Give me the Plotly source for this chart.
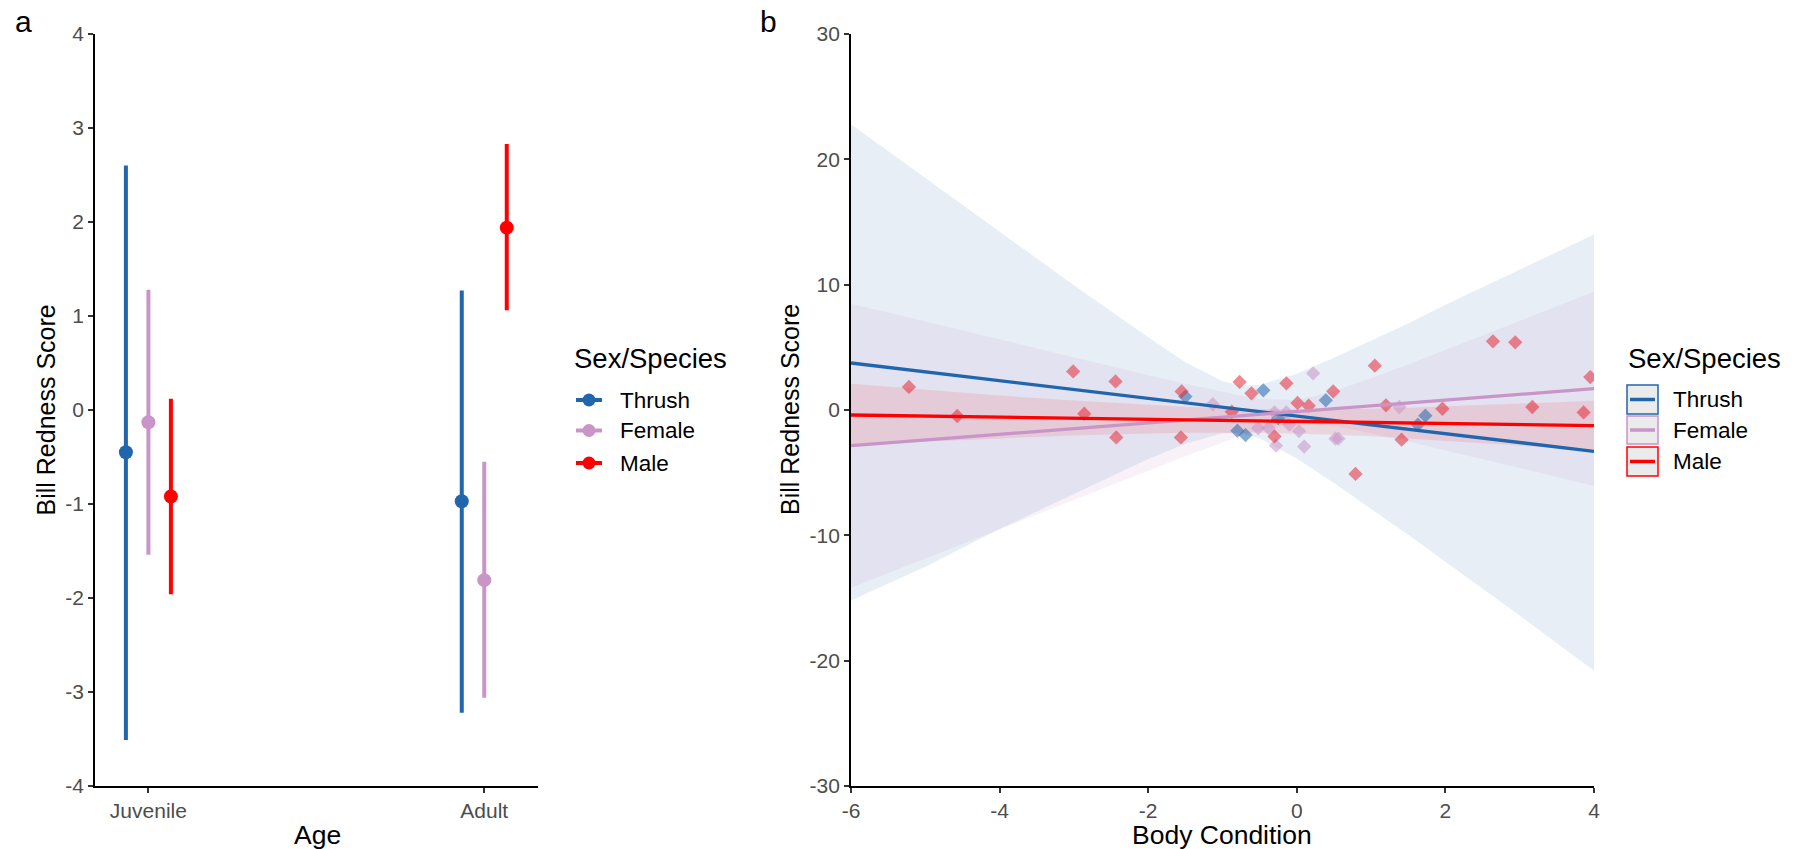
import plotly.graph_objects as go

W, H = 1794, 849
FONT = "Liberation Sans, Arial, sans-serif"

groups = ["Thrush", "Female", "Male"]
colors = {"Thrush": "#2166AC", "Female": "#C994C7", "Male": "#FF0000"}
fills = {"Thrush": "rgba(33,102,172,0.11)", "Female": "rgba(201,148,199,0.13)", "Male": "rgba(255,0,0,0.10)"}
pt_colors = {"Thrush": "rgba(33,102,172,0.55)", "Female": "rgba(201,148,199,0.55)", "Male": "rgba(230,40,55,0.55)"}

# ---------------- Panel a data ----------------
ages = ["Juvenile", "Adult"]
dodge = {"Thrush": -0.067, "Female": 0.0, "Male": 0.067}
mean_a = {"Thrush": [-0.45, -0.97], "Female": [-0.13, -1.81], "Male": [-0.92, 1.94]}
low_a = {"Thrush": [-3.51, -3.22], "Female": [-1.54, -3.06], "Male": [-1.96, 1.06]}
high_a = {"Thrush": [2.60, 1.27], "Female": [1.28, -0.55], "Male": [0.12, 2.83]}
yticks_a = [-4, -3, -2, -1, 0, 1, 2, 3, 4]

# ---------------- Panel b data ----------------
bc_thrush_x = [-1.50, -0.80, -0.69, -0.45, -0.25, 0.39, 1.73, 1.63]
bc_thrush_y = [1.07, -1.65, -2.00, 1.57, -0.65, 0.77, -0.45, -1.17]
bc_female_x = [-1.13, -0.52, -0.38, -0.30, -0.14, -0.28, -0.10, 0.03, 0.10, 0.22, 0.52, 0.56, 1.38]
bc_female_y = [0.46, -1.44, -1.44, -0.19, -0.19, -2.85, -1.17, -1.68, -2.92, 2.93, -2.29, -2.29, 0.24]
bc_male_x = [-5.22, -4.57, -3.01, -2.86, -2.44, -2.43, -1.55, -1.56, -0.77, -0.875, -0.61, -0.30, -0.14,
             0.01, 0.16, 0.49, 0.79, 1.05, 1.20, 1.41, 1.96, 2.64, 2.94, 3.17, 3.86, 3.95]
bc_male_y = [1.84, -0.48, 3.08, -0.30, 2.28, -2.19, 1.48, -2.19, 2.24, -0.14, 1.33, -2.11, 2.13,
             0.56, 0.34, 1.49, -5.10, 3.54, 0.37, -2.37, 0.10, 5.48, 5.40, 0.24, -0.19, 2.63]
pts = {"Thrush": (bc_thrush_x, bc_thrush_y), "Female": (bc_female_x, bc_female_y), "Male": (bc_male_x, bc_male_y)}

fit_x = [-6, 4]
fit_y = {"Thrush": [3.75, -3.30], "Female": [-2.85, 1.70], "Male": [-0.40, -1.25]}

band_x = [-6, -5, -4, -3, -2, -1.5, -1, -0.75, -0.5, 0, 0.5, 1, 1.5, 2, 3, 4]
band_up = {
    "Thrush": [22.8, 18.5, 14.2, 9.95, 5.8, 3.8, 2.3, 1.95, 2.0, 2.9, 4.16, 5.5, 6.9, 8.4, 11.2, 14.0],
    "Female": [8.48, 7.04, 5.61, 4.19, 2.78, 2.10, 1.44, 1.14, 0.89, 0.78, 1.49, 2.53, 3.64, 4.78, 7.11, 9.44],
    "Male": [2.1, 1.6, 1.15, 0.75, 0.40, 0.26, 0.15, 0.11, 0.08, 0.05, 0.06, 0.10, 0.18, 0.28, 0.50, 0.73],
}
band_lo = {
    "Thrush": [-15.2, -12.5, -9.5, -6.7, -3.9, -2.7, -1.85, -1.85, -2.27, -3.86, -5.82, -7.9, -9.95, -12.1, -16.4, -20.8],
    "Female": [-14.18, -11.83, -9.49, -7.16, -4.84, -3.70, -2.59, -2.06, -1.59, -1.02, -1.27, -1.86, -2.52, -3.20, -4.62, -6.04],
    "Male": [-2.8, -2.52, -2.27, -2.04, -1.88, -1.82, -1.80, -1.81, -1.82, -1.87, -1.97, -2.09, -2.26, -2.44, -2.83, -3.23],
}
xticks_b = [-6, -4, -2, 0, 2, 4]
yticks_b = [-30, -20, -10, 0, 10, 20, 30]

fig = go.Figure()

# Panel a: point ranges
for g in groups:
    xs = [i + 1 + dodge[g] for i in range(len(ages))]
    m = mean_a[g]
    fig.add_trace(go.Scatter(
        x=xs, y=m, mode="markers", xaxis="x", yaxis="y", showlegend=False,
        marker=dict(color=colors[g], size=14),
        error_y=dict(type="data", symmetric=False,
                     array=[h - v for h, v in zip(high_a[g], m)],
                     arrayminus=[v - l for l, v in zip(low_a[g], m)],
                     color=colors[g], thickness=4, width=0),
    ))

# Panel b: confidence bands
for g in groups:
    fig.add_trace(go.Scatter(
        x=band_x + band_x[::-1], y=band_up[g] + band_lo[g][::-1],
        xaxis="x2", yaxis="y2", mode="lines", fill="toself",
        fillcolor=fills[g], line=dict(width=0), showlegend=False, hoverinfo="skip"))

# Panel b: points
for g in groups:
    x, y = pts[g]
    fig.add_trace(go.Scatter(
        x=x, y=y, mode="markers", xaxis="x2", yaxis="y2", showlegend=False,
        marker=dict(symbol="diamond", size=11, color=pt_colors[g], line=dict(width=0))))

# Panel b: fitted lines
for g in groups:
    fig.add_trace(go.Scatter(
        x=fit_x, y=fit_y[g], mode="lines", xaxis="x2", yaxis="y2", showlegend=False,
        line=dict(color=colors[g], width=3.3)))


def px(x):
    return x / W


def py(y):
    return 1 - y / H


def labels(vals):
    return [str(v) for v in vals]


axis_common = dict(
    showline=True, linecolor="black", linewidth=1.8, showgrid=False, zeroline=False,
    ticks="outside", ticklen=5, tickwidth=1.5, tickcolor="#333333",
    tickfont=dict(family=FONT, size=21, color="#4D4D4D"),
)

fig.update_layout(
    width=W, height=H, margin=dict(l=0, r=0, t=0, b=0, autoexpand=False),
    paper_bgcolor="white", plot_bgcolor="white", showlegend=False,
    xaxis=dict(domain=[px(95), px(538)], range=[0.841, 2.16], tickvals=[1, 2], ticktext=ages,
               anchor="y", **axis_common),
    yaxis=dict(domain=[py(786), py(34)], range=[-4, 4], tickvals=yticks_a, ticktext=labels(yticks_a),
               anchor="x", **axis_common),
    xaxis2=dict(domain=[px(851), px(1594)], range=[-6, 4], tickvals=xticks_b, ticktext=labels(xticks_b),
                anchor="y2", **axis_common),
    yaxis2=dict(domain=[py(786), py(34)], range=[-30, 30], tickvals=yticks_b, ticktext=labels(yticks_b),
                anchor="x2", **axis_common),
)

ann = []


def text(t, x, y, size, xanchor="center", angle=0, color="black"):
    ann.append(dict(text=t, x=px(x), y=py(y), xref="paper", yref="paper", showarrow=False,
                    xanchor=xanchor, yanchor="middle", textangle=angle, borderpad=0,
                    font=dict(family=FONT, size=size, color=color)))


text("a", 23, 22, 30)
text("b", 768.5, 22, 30)
text("Bill Redness Score", 45.5, 410, 25, angle=-90)
text("Bill Redness Score", 790, 410, 25, angle=-90)
text("Age", 317, 835, 26.5)
text("Body Condition", 1222, 835, 26.5)

shapes = []

# Legend a
text("Sex/Species", 573, 358, 27.5, xanchor="left")
leg_y_a = [400, 430.5, 463]
for g, yy in zip(groups, leg_y_a):
    shapes.append(dict(type="line", xref="paper", yref="paper", x0=px(576), x1=px(602), y0=py(yy), y1=py(yy),
                       line=dict(color=colors[g], width=4)))
    shapes.append(dict(type="circle", xref="paper", yref="paper", x0=px(582.5), x1=px(595.5),
                       y0=py(yy + 6.5), y1=py(yy - 6.5), fillcolor=colors[g], line=dict(width=0)))
    text(g, 619, yy, 22.5, xanchor="left")

# Legend b
text("Sex/Species", 1627, 358, 27.5, xanchor="left")
leg_b = [(385, 414), (416, 444), (447, 476)]
for g, (y0, y1) in zip(groups, leg_b):
    shapes.append(dict(type="rect", xref="paper", yref="paper", x0=px(1627), x1=px(1658), y0=py(y1), y1=py(y0),
                       fillcolor="#EBEBEB", line=dict(color=colors[g], width=1.5)))
    yc = (y0 + y1) / 2
    shapes.append(dict(type="line", xref="paper", yref="paper", x0=px(1630), x1=px(1655), y0=py(yc), y1=py(yc),
                       line=dict(color=colors[g], width=3.5)))
    text(g, 1672, yc, 22.5, xanchor="left")

fig.update_layout(annotations=ann, shapes=shapes)
fig.write_html(
    "out.html",
    post_script="document.body.style.margin='0';document.documentElement.style.overflow='hidden';",
)
